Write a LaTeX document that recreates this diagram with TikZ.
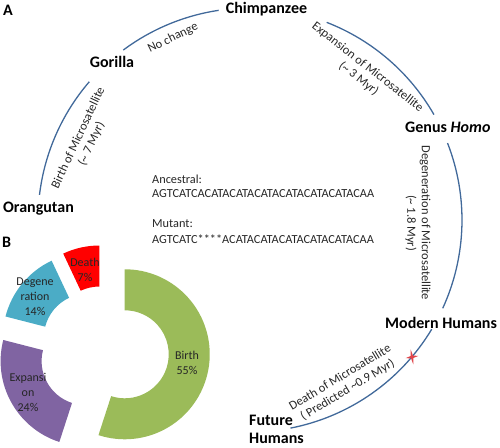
\documentclass[tikz,border=0pt]{standalone}
\usepackage{fontspec}
\setmainfont{Carlito}
\definecolor{arcblue}{HTML}{41699A}
\definecolor{birthgreen}{HTML}{9BBB59}
\definecolor{expanpurple}{HTML}{8064A2}
\definecolor{degenblue}{HTML}{4BACC6}
\definecolor{deathred}{HTML}{FF0000}
\definecolor{starred}{HTML}{E0464B}

\begin{document}
\begin{tikzpicture}[x=1pt,y=1pt,
  branch/.style={draw=arcblue,line width=1.3pt},
  species/.style={font=\fontsize{16}{18}\selectfont\bfseries,inner sep=0pt},
  event/.style={font=\fontsize{12.5}{14.5}\selectfont,text=black!85,align=center,inner sep=0pt},
  seq/.style={font=\fontsize{12.3}{14}\selectfont,text=black!85,inner sep=0pt},
  pct/.style={font=\fontsize{12}{15}\selectfont,text=black!85,align=center,inner sep=0pt}]
\useasboundingbox (0,0) rectangle (500,-447);

% panel A
\node[species,anchor=base west] (pA) at (3,-15) {A};
\coordinate (ctr) at (250,-220);
\foreach \a/\b in {173.2/139.3,126.7/98.5,68.8/29.8,21.3/-24.6,-31/-79}
  \draw[branch] (ctr) ++(\a:212) arc[start angle=\a,end angle=\b,radius=212];
\coordinate (now) at (412,-357);
\fill[starred,shift={(now)},rotate=10] (90:7.5) -- (45:1.7) -- (0:6.5) -- (-45:1.7)
  -- (-90:7.5) -- (-135:1.7) -- (180:6.5) -- (135:1.7) -- cycle;

\node[species,anchor=base] (chimp) at (266.5,-13) {Chimpanzee};
\node[species,anchor=base] (gorilla) at (112,-67) {Gorilla};
\node[species,anchor=base] (orang) at (38.5,-212) {Orangutan};
\node[species,anchor=base west] (homo) at (405,-132) {Genus \textit{Homo}};
\node[species,anchor=base west] (modern) at (385,-328) {Modern Humans};
\node[species,anchor=west,align=left] (future) at (249,-429) {Future\\Humans};

\node[event,rotate=65] (birth) at (85,-141) {Birth of Microsatellite\\(\textasciitilde{} 7 Myr)};
\node[event,rotate=26] (nochg) at (173,-38) {No change};
\node[event,rotate=-38] (expan) at (363,-73) {Expansion of Microsatellite\\(\textasciitilde{} 3 Myr)};
\node[event,rotate=-90] (degen) at (418,-223) {Degeneration of Microsatellite\\(\textasciitilde{} 1.8 Myr)};
\node[event,rotate=31] (death) at (344,-384) {Death of Microsatellite\\( Predicted \textasciitilde0.9 Myr)};

\node[seq,anchor=base west] (anc) at (152,-183) {Ancestral:};
\node[seq,anchor=base west] (ancseq) at (152,-197) {AGTCATCACATACATACATACATACATACATACAA};
\node[seq,anchor=base west] (mut) at (152,-227) {Mutant:};
\node[seq,anchor=base west] (mutseq) at (152,-243) {AGTCATC****ACATACATACATACATACATACAA};

% panel B
\node[species,anchor=base west] (pB) at (2,-247) {B};
\foreach \a/\b/\col in {90/-108/birthgreen,-108/-194.4/expanpurple,-194.4/-244.8/degenblue,-244.8/-270/deathred}
  \fill[\col,shift={({(\a+\b)/2}:21)}] (104,-351) ++(\a:85) arc[start angle=\a,end angle=\b,radius=85]
    -- ([shift={(\b:44)}]104,-351) arc[start angle=\b,end angle=\a,radius=44] -- cycle;
\node[pct] (pb) at (187,-363) {Birth\\55\%};
\node[pct] (pe) at (28,-392) {Expansi\\on\\24\%};
\node[pct] (pd) at (35,-297) {Degene\\ration\\14\%};
\node[pct] (px) at (85,-270) {Death\\7\%};
\end{tikzpicture}
\end{document}
